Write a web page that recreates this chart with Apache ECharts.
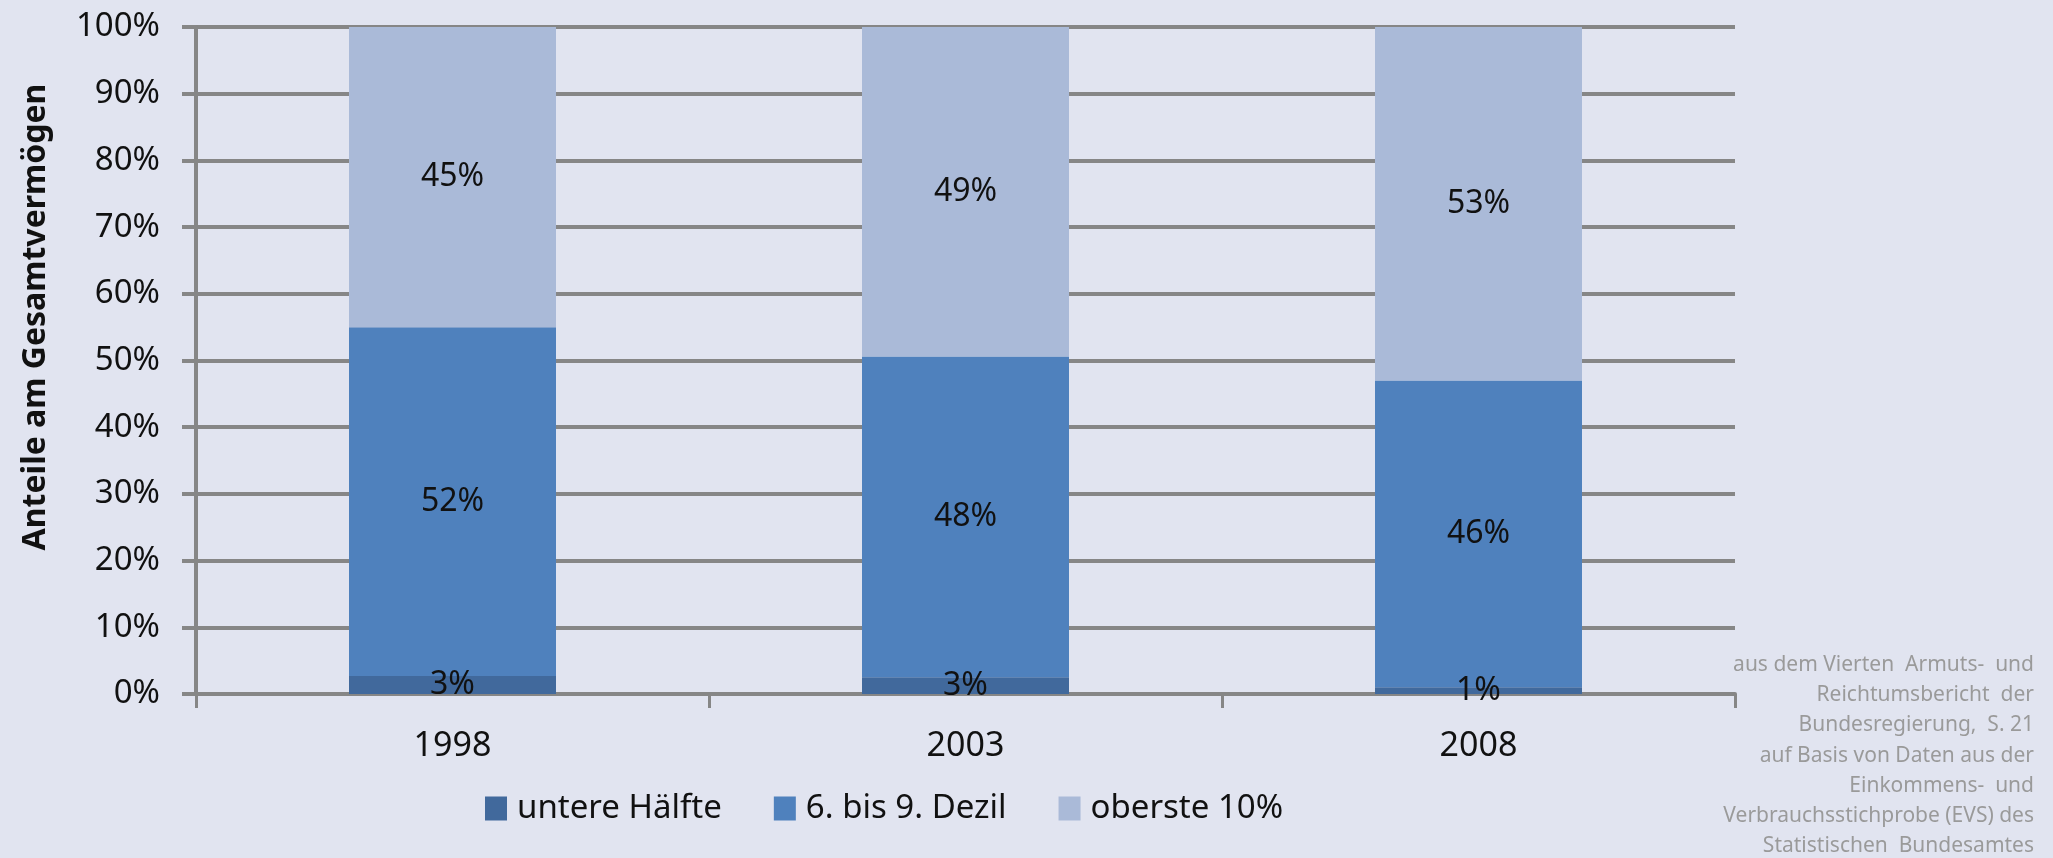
<!DOCTYPE html>
<html>
<head>
<meta charset="utf-8">
<script src="https://cdn.jsdelivr.net/npm/echarts@6/dist/echarts.min.js"></script>
<style>
html,body{margin:0;padding:0;background:#e1e4f0;}
#chart{width:2053px;height:858px;}
</style>
</head>
<body>
<div id="chart"></div>
<script>
const categories = ['1998', '2003', '2008'];
const seriesNames = ['untere Hälfte', '6. bis 9. Dezil', 'oberste 10%'];
const untereHaelfte = [2.7, 2.5, 1.0];
const dezil6bis9 = [52.3, 48.1, 46.0];
const oberste10 = [45.0, 49.4, 53.0];
const yTicks = [0, 10, 20, 30, 40, 50, 60, 70, 80, 90, 100];
const yAxisTitle = 'Anteile am Gesamtvermögen';
const sourceLines = [
  'aus dem Vierten  Armuts-  und',
  'Reichtumsbericht  der',
  'Bundesregierung,  S. 21',
  'auf Basis von Daten aus der',
  'Einkommens-  und',
  'Verbrauchsstichprobe (EVS) des',
  'Statistischen  Bundesamtes'
];

const colors = ['#41699c', '#4f81bd', '#aabad8'];
const gridColor = '#868686';
const font = 'Noto Sans';

const chart = echarts.init(document.getElementById('chart'), null, {renderer: 'canvas'});
const seriesData = [untereHaelfte, dezil6bis9, oberste10];

const option = {
  backgroundColor: '#e1e4f0',
  animation: false,
  grid: {left: 196, right: 318, top: 27, bottom: 164},
  legend: {
    left: 480, top: 787,
    itemWidth: 22, itemHeight: 24, itemGap: 52,
    icon: 'rect',
    textStyle: {fontFamily: font, fontSize: 33, color: '#111', padding: [0, 0, 0, 5]},
    data: seriesNames
  },
  xAxis: {
    type: 'category',
    data: categories,
    axisLine: {lineStyle: {color: gridColor, width: 4}},
    axisTick: {show: true, length: 14, lineStyle: {color: gridColor, width: 3}},
    axisLabel: {margin: 35, fontFamily: font, fontSize: 34, color: '#111'}
  },
  yAxis: {
    type: 'value',
    min: 0, max: 100, interval: 10,
    axisLine: {show: true, lineStyle: {color: gridColor, width: 4}},
    axisTick: {show: true, length: 14, lineStyle: {color: gridColor, width: 4}},
    splitLine: {show: true, lineStyle: {color: gridColor, width: 4}},
    axisLabel: {
      margin: 36, fontFamily: font, fontSize: 33, color: '#111',
      formatter: v => yTicks.includes(v) ? v + '%' : ''
    }
  },
  series: seriesNames.map((name, i) => ({
    name: name,
    type: 'bar',
    stack: 'total',
    barWidth: 207,
    itemStyle: {color: colors[i]},
    label: {
      show: true,
      position: 'inside',
      fontFamily: font,
      fontSize: 32,
      color: '#111',
      formatter: p => Math.round(p.value) + '%'
    },
    data: seriesData[i]
  })),
  graphic: [{
    type: 'text',
    x: 36, y: 317,
    rotation: Math.PI / 2,
    style: {
      text: yAxisTitle,
      fontFamily: font,
      fontSize: 32,
      fontWeight: 'bold',
      fill: '#111',
      textAlign: 'center',
      textVerticalAlign: 'middle'
    }
  }, {
    type: 'text',
    right: 19,
    top: 650,
    style: {
      text: sourceLines.join('\n'),
      fontFamily: font,
      fontSize: 21,
      lineHeight: 30.2,
      fill: '#9a9a9a',
      textAlign: 'right'
    }
  }]
};
chart.setOption(option);
</script>
</body>
</html>
